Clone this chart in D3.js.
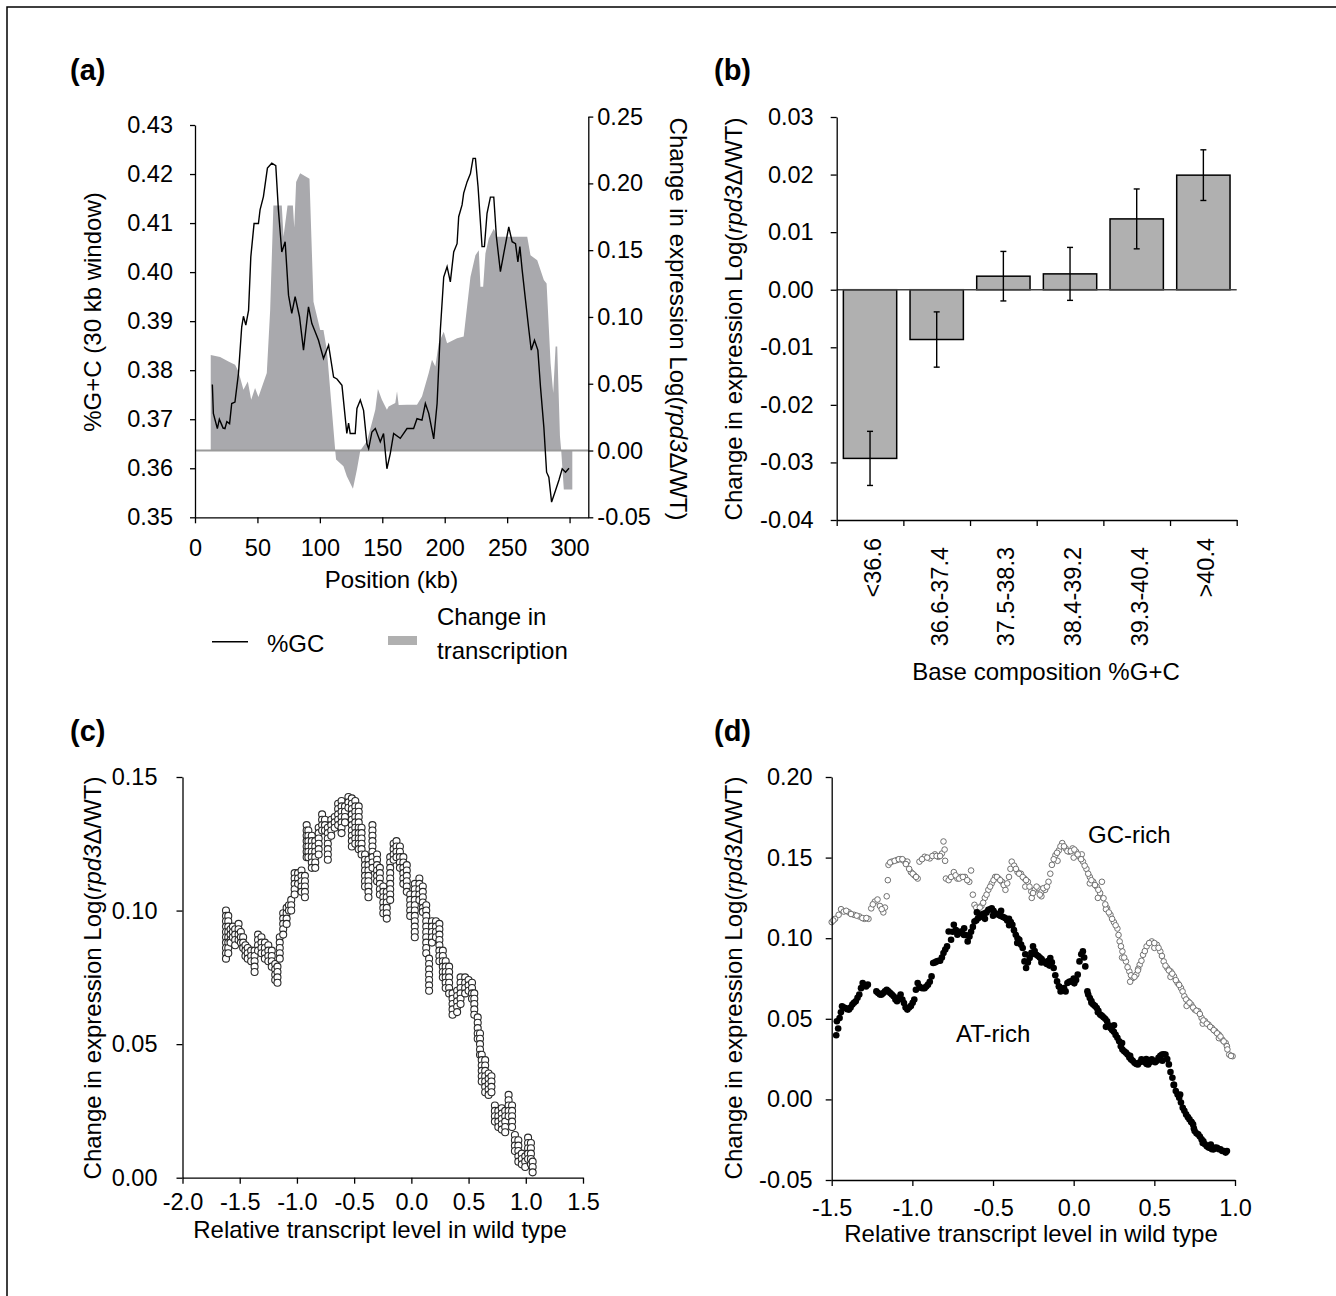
<!DOCTYPE html>
<html><head><meta charset="utf-8">
<script src="https://cdn.jsdelivr.net/npm/d3@7"></script>
<style>
body{margin:0;background:#fff}
svg text{font-family:"Liberation Sans",Arial,Helvetica,sans-serif;fill:#000}
</style>
</head><body>
<svg id="fig" width="1336" height="1296"></svg>
<script>
// ---------------- DATA ----------------
// Panel (a): %GC along chromosome (position kb, %G+C)
const gcPos = [13.9,14.7,17.9,19.5,21,22.5,24,25.5,27.7,29.4,32,34.8,37.4,38.8,40.7,42.9,44.7,47.3,50.8,52.1,54.8,58,61.5,64.7,66.8,69.5,72.2,74.9,77.5,80.2,83.7,86.9,90.9,93.6,96,98.9,102.9,107,111,113.7,117.7,121.6,123,124.3,128.3,129.7,132.4,135,137.7,139.1,141.7,144.4,148.4,151,153.7,156.4,159.1,164.4,169.8,175.1,177.8,181.8,184.5,187.2,191.2,193.9,196.5,199.2,201.9,204.5,207.2,209.9,211.2,213.9,215.2,217.9,220.6,222.7,224.6,226.7,229.9,231.8,233.9,236.6,239.3,241.4,244.6,247.3,251.3,254,256.7,258.6,260.2,262,264.7,267.4,269.3,271.9,274.6,276.7,279.4,281.6,283.4,285.6,288.8,291.5,294.1,296.8,299.5];
const gcVal = [.3771,.3712,.3681,.3700,.3691,.3682,.3681,.3695,.3691,.3732,.3735,.3793,.3888,.3910,.3892,.3922,.4031,.4099,.4099,.4127,.4154,.4212,.4222,.4217,.4127,.4041,.4062,.3953,.3916,.3950,.3909,.3841,.3929,.3895,.3880,.3861,.3824,.3851,.3786,.3782,.3769,.3671,.3692,.3671,.3671,.3722,.3739,.3718,.3650,.3640,.3674,.3681,.3654,.3671,.3599,.3630,.3671,.3661,.3681,.3681,.3701,.3698,.3732,.3712,.3660,.3732,.3882,.3990,.4011,.3980,.4041,.4058,.4113,.4137,.4161,.4184,.4201,.4232,.4232,.4174,.4052,.4052,.4120,.4153,.4153,.4072,.4001,.4038,.4092,.4062,.4058,.4021,.4052,.4005,.3943,.3882,.3841,.3861,.3841,.3766,.3684,.3592,.3582,.3531,.3555,.3576,.3599,.3592,.3600];
// Panel (a): change in transcription (position kb, log ratio)
const txPos = [12.6,12.6,20.1,26.8,32.1,34.8,38.8,42.3,45,48.1,50.8,57.5,60.2,62.8,69.5,70.9,74.1,78.4,79.5,81,84.2,91.7,94.9,100.3,102.9,105.6,109.6,112.3,113,118.9,121.6,126.5,129.7,132.4,137.7,141.7,144.4,146.5,149.7,153.7,155.1,160.4,161.8,163.1,169.8,177.8,181.8,187.2,189.8,192.5,195.2,199.2,201.9,209.9,215.2,220.6,224.6,227.3,228.6,230.8,232.6,235.3,239.3,242,255.4,266.1,268.7,274.1,279.4,281.6,284.8,286.9,288.8,290.1,292.3,293.3,295.4,302.2,302.2];
const txVal = [0,.0716,.070,.0666,.0642,.0592,.0455,.0517,.038,.0468,.040,.058,.105,.1835,.1835,.160,.1835,.1835,.167,.201,.2076,.2034,.1114,.0903,.0903,.0753,.0306,0,-.0067,-.0117,-.0192,-.0286,-.0142,0,.007,.0207,.0306,.046,.038,.0306,.033,.0356,.0443,.034,.0343,.0343,.0405,.058,.0679,.0629,.0803,.089,.0803,.0841,.0853,.130,.1462,.150,.1226,.1226,.1475,.1587,.1661,.160,.160,.160,.1462,.1425,.1276,.125,.0654,.043,.0778,.0778,.0107,0,-.0291,-.0291,0];
const aXTicks = [0,50,100,150,200,250,300];
const aYLeftTicks = [0.35,0.36,0.37,0.38,0.39,0.40,0.41,0.42,0.43];
const aYRightTicks = [-0.05,0,0.05,0.10,0.15,0.20,0.25];

// Panel (b)
const bCategories = ["<36.6","36.6-37.4","37.5-38.3","38.4-39.2","39.3-40.4",">40.4"];
const bValues = [-0.0293,-0.00865,0.00235,0.00275,0.0123,0.0199];
const bErrors = [0.0047,0.0048,0.0043,0.0046,0.0052,0.0044];
const bYTicks = [-0.04,-0.03,-0.02,-0.01,0,0.01,0.02,0.03];

// Panel (c): columns of moving-average points (x, list of y)
const cColX = [-1.62,-1.60,-1.58,-1.56,-1.54,-1.51,-1.49,-1.47,-1.45,-1.43,-1.40,-1.37,-1.34,-1.31,-1.28,-1.25,-1.22,-1.19,-1.17,-1.15,-1.12,-1.09,-1.07,-1.05,-1.02,-0.99,-0.96,-0.93,-0.915,-0.90,-0.87,-0.84,-0.81,-0.78,-0.755,-0.73,-0.70,-0.67,-0.64,-0.61,-0.58,-0.55,-0.52,-0.49,-0.46,-0.435,-0.405,-0.375,-0.34,-0.30,-0.275,-0.245,-0.215,-0.185,-0.155,-0.13,-0.10,-0.07,-0.04,-0.01,0.03,0.07,0.10,0.13,0.155,0.18,0.215,0.245,0.275,0.30,0.33,0.36,0.40,0.43,0.47,0.50,0.53,0.55,0.58,0.60,0.615,0.645,0.675,0.70,0.73,0.76,0.79,0.82,0.85,0.88,0.905,0.935,0.965,0.995,1.02,1.045,1.06];
const cColY = [
 [.100,.098,.096,.094,.092,.090,.088,.086,.084,.082],[.098,.096,.094,.092,.090,.088,.086,.084],[.093,.091,.089,.088],[.094,.092,.090],[.093,.091,.089,.087],
 [.095,.093,.091,.089],[.092,.090,.088],[.090,.088,.086],[.087,.085,.083],[.086,.084,.082],
 [.085,.083,.081],[.085,.083,.081,.079,.077],[.091,.089,.087,.085],[.090,.088,.086,.084],[.088,.086,.084,.082],
 [.087,.085,.083,.081],[.085,.083,.081,.079],[.080,.078,.076,.074],[.079,.077,.075,.073],[.090,.088,.086,.084,.082],
 [.099,.097,.095,.093,.091],[.101,.099,.097,.095],[.102,.100],[.104,.102,.100],[.114,.112,.110,.108,.106],
 [.114,.112,.110],[.115,.113,.111,.109,.107],[.113,.111,.109,.107,.105],[.132,.130,.128,.126,.124,.122,.120],[.130,.128,.126,.124,.122,.120],
 [.128,.126,.124,.122,.120,.118,.116],[.126,.124,.122,.120,.118,.116],[.131,.129,.127,.125,.123,.121],[.136,.134,.132,.130],[.134,.132,.130],
 [.131,.129,.127,.125,.123,.121,.119],[.134,.132,.130,.128],[.135,.133,.131],[.140,.138,.136,.134,.132],[.141,.139,.137,.135,.133,.131,.129],
 [.139,.137,.135,.133],[.1425,.1405,.1385],[.142,.140,.138,.136,.134,.132,.130,.128,.126,.124],[.141,.139,.137,.135,.133,.131,.129,.127,.125],[.139,.137,.135,.133,.131,.129,.127,.125,.123],
 [.131,.129,.127,.125,.123,.121],[.121,.119,.117,.115,.113,.111,.109],[.119,.117,.115,.113,.111,.109,.107,.105],[.132,.130,.128,.126,.124,.122,.120,.118,.116],[.121,.119,.117,.115,.113,.111],
 [.116,.114,.112,.110,.108,.106],[.109,.107,.105,.103,.101,.099],[.107,.105,.103,.101,.099,.097],[.120,.118,.116,.114,.112,.110,.108,.106,.104],[.125,.123,.121,.119],
 [.126,.124,.122,.120],[.124,.122,.120,.118,.116],[.120,.118,.116,.114,.112,.110],[.117,.115,.113,.111,.109,.107],[.106,.104,.102,.100,.098],
 [.110,.108,.106,.104,.102,.100,.098,.096,.094,.092,.090],[.112,.110,.108,.106,.104],[.109,.107,.105,.103,.101,.0995],[.102,.100,.098,.096,.094,.092,.090,.088,.086,.084],[.082,.080,.078,.076,.074,.072,.070],
 [.096,.094,.092,.090,.088],[.096,.094,.092,.090],[.095,.093,.091,.089,.087,.085,.083,.081],[.085,.083,.081,.079,.077,.075],[.081,.079,.077,.075,.073,.071],
 [.079,.077,.075,.073,.071,.069],[.069,.067,.065,.063,.061],[.070,.068,.066,.064,.062],[.075,.073,.071,.069,.067,.065],[.075,.073,.071,.069],
 [.074,.072,.070],[.073,.071,.069,.067],[.069,.067,.065,.063,.061],[.060,.058,.056,.054,.052],[.054,.052,.050,.048,.046],
 [.046,.044,.042,.040,.038,.036],[.044,.042,.040,.038,.036,.034,.032],[.039,.037,.035,.033,.031],[.038,.036,.034,.032],[.027,.025,.023,.021],
 [.025,.023,.021,.019],[.026,.024,.022,.020,.018],[.025,.023,.021,.019,.017],[.031,.029,.027,.025,.023],[.027,.025,.023,.021,.019],
 [.016,.014,.012,.010],[.014,.012,.010,.008,.006],[.009,.007,.005],[.008,.006,.004],[.015,.013,.011,.009,.007],
 [.013,.011,.009,.007,.005],[.006,.004,.002]
];
const cXTicks = [-2.0,-1.5,-1.0,-0.5,0,0.5,1.0,1.5];
const cYTicks = [0,0.05,0.10,0.15];

// Panel (d)
const dGcPoints = [[-1.5,.110],[-1.479,.112],[-1.457,.1145],[-1.442,.118],[-1.425,.1165],[-1.393,.116],[-1.361,.1145],[-1.329,.1135],[-1.297,.112],[-1.272,.112],[-1.255,.1185],[-1.233,.1227],[-1.216,.124],[-1.201,.120],[-1.18,.116],[-1.17,.119],[-1.159,.126],[-1.152,.136],[-1.148,.1455],[-1.127,.1475],[-1.095,.1485],[-1.073,.149],[-1.052,.148],[-1.031,.1475],[-1.009,.141],[-0.988,.139],[-0.967,.137],[-0.956,.1475],[-0.924,.1505],[-0.892,.1495],[-0.86,.152],[-0.839,.1505],[-0.817,.1525],[-0.807,.160],[-0.80,.155],[-0.797,.148],[-0.792,.137],[-0.775,.136],[-0.743,.141],[-0.721,.137],[-0.70,.138],[-0.674,.138],[-0.647,.135],[-0.636,.142],[-0.625,.127],[-0.615,.1207],[-0.593,.1175],[-0.572,.120],[-0.551,.125],[-0.529,.130],[-0.508,.134],[-0.487,.138],[-0.465,.137],[-0.444,.135],[-0.423,.130],[-0.401,.138],[-0.384,.1475],[-0.369,.145],[-0.348,.141],[-0.327,.140],[-0.305,.137],[-0.284,.135],[-0.263,.129],[-0.241,.130],[-0.22,.131],[-0.199,.129],[-0.177,.130],[-0.156,.135],[-0.135,.1455],[-0.113,.1515],[-0.092,.1545],[-0.071,.159],[-0.05,.1557],[-0.028,.1537],[-0.007,.1557],[0.015,.1537],[0.036,.1505],[0.057,.1475],[0.079,.143],[0.1,.138],[0.121,.135],[0.143,.132],[0.164,.128],[0.175,.135],[0.185,.1248],[0.207,.1186],[0.228,.1145],[0.249,.110],[0.271,.106],[0.285,.098],[0.302,.0918],[0.324,.0856],[0.345,.0794],[0.366,.0753],[0.388,.0774],[0.409,.0835],[0.43,.0897],[0.452,.0949],[0.484,.098],[0.516,.0959],[0.537,.0918],[0.558,.0856],[0.58,.0815],[0.601,.0794],[0.622,.0763],[0.644,.0722],[0.665,.0691],[0.686,.064],[0.708,.0609],[0.729,.0588],[0.75,.0557],[0.772,.0547],[0.793,.0505],[0.814,.0485],[0.836,.0464],[0.857,.0443],[0.878,.0423],[0.9,.0402],[0.921,.0371],[0.942,.035],[0.964,.0278],[0.985,.0268],
 [-0.3,.132],[-0.26,.125],[-0.2,.126],[-0.1,.148],[0,.150],[0.05,.152],[0.1,.134],[0.15,.125],[0.2,.118],[0.3,.088],[0.35,.073],[0.4,.081],[0.5,.094],[0.6,.076],[0.7,.058],[0.8,.047],[0.9,.038],[0.95,.033],
 [-1.49,.111],[-1.41,.117],[-1.38,.115],[-1.345,.114],[-1.31,.1125],[-1.285,.1125],[-1.245,.121],[-1.19,.118],[-1.138,.147],[-1.11,.148],[-1.084,.149],[-1.062,.149],[-1.04,.146],[-1.02,.143],[-0.998,.140],[-0.977,.138],[-0.94,.149],[-0.908,.150],[-0.876,.151],[-0.85,.151],[-0.828,.151],[-0.76,.138],[-0.732,.139],[-0.71,.137],[-0.687,.138],[-0.66,.136],[-0.604,.119],[-0.582,.119],[-0.561,.122],[-0.54,.127],[-0.518,.132],[-0.497,.136],[-0.476,.138],[-0.455,.136],[-0.434,.133],[-0.412,.134],[-0.392,.143],[-0.358,.143],[-0.338,.140],[-0.316,.138],[-0.295,.136],[-0.274,.132],[-0.252,.128],[-0.23,.132],[-0.21,.127],[-0.188,.131],[-0.166,.132],[-0.145,.140],[-0.124,.149],[-0.103,.153],[-0.082,.157],[-0.06,.157],[-0.039,.154],[-0.018,.154],[0.004,.155],[0.025,.152],[0.046,.149],[0.068,.145],[0.09,.140],[0.11,.136],[0.132,.133],[0.153,.130],[0.196,.121],[0.218,.116],[0.238,.112],[0.26,.108],[0.278,.102],[0.293,.095],[0.313,.088],[0.334,.082],[0.355,.077],[0.377,.076],[0.398,.080],[0.42,.086],[0.441,.092],[0.468,.097],[0.5,.097],[0.526,.094],[0.547,.089],[0.569,.083],[0.59,.080],[0.611,.078],[0.633,.074],[0.654,.071],[0.675,.067],[0.697,.062],[0.718,.060],[0.74,.057],[0.761,.055],[0.782,.053],[0.804,.049],[0.825,.047],[0.846,.045],[0.868,.043],[0.889,.041],[0.91,.039],[0.93,.036],[0.953,.031],[0.975,.027]];
const dAtPoints = [[-1.472,.0398],[-1.468,.0485],[-1.451,.0505],[-1.436,.0578],[-1.415,.0567],[-1.393,.0557],[-1.372,.0588],[-1.351,.0609],[-1.329,.065],[-1.308,.0722],[-1.287,.0701],[-1.276,.0712],[-1.223,.067],[-1.201,.065],[-1.18,.066],[-1.159,.068],[-1.137,.066],[-1.116,.064],[-1.095,.0609],[-1.073,.065],[-1.052,.0598],[-1.031,.0557],[-1.009,.058],[-0.988,.0619],[-0.967,.0722],[-0.945,.0691],[-0.924,.069],[-0.903,.0712],[-0.881,.0763],[-0.871,.0846],[-0.849,.0856],[-0.828,.086],[-0.807,.0908],[-0.785,.0949],[-0.775,.1042],[-0.76,.099],[-0.743,.1083],[-0.721,.1021],[-0.70,.1042],[-0.679,.1062],[-0.657,.098],[-0.636,.104],[-0.615,.1104],[-0.593,.1124],[-0.572,.1145],[-0.551,.1155],[-0.529,.1176],[-0.508,.1186],[-0.487,.1155],[-0.465,.1145],[-0.444,.1134],[-0.423,.1124],[-0.401,.112],[-0.38,.1083],[-0.359,.1021],[-0.337,.099],[-0.316,.0939],[-0.305,.0856],[-0.295,.0815],[-0.273,.0877],[-0.252,.0949],[-0.231,.0897],[-0.21,.088],[-0.188,.0856],[-0.167,.084],[-0.145,.0877],[-0.124,.0815],[-0.103,.0732],[-0.081,.067],[-0.06,.0691],[-0.039,.0722],[-0.017,.0732],[0.004,.072],[0.025,.0774],[0.036,.0856],[0.047,.090],[0.057,.0918],[0.065,.088],[0.072,.0825],[0.085,.067],[0.1,.0629],[0.121,.0588],[0.143,.0567],[0.164,.0526],[0.185,.051],[0.207,.0485],[0.228,.0443],[0.249,.042],[0.271,.0382],[0.292,.033],[0.313,.0299],[0.334,.0278],[0.356,.0248],[0.377,.0227],[0.398,.0217],[0.42,.0248],[0.441,.023],[0.462,.0217],[0.484,.0248],[0.505,.023],[0.526,.0258],[0.548,.0278],[0.569,.0278],[0.59,.0217],[0.612,.0134],[0.633,.0052],[0.654,.001],[0.676,-.0052],[0.697,-.0093],[0.718,-.0124],[0.74,-.0155],[0.75,-.0196],[0.772,-.0217],[0.793,-.0248],[0.814,-.0278],[0.836,-.0299],[0.857,-.0309],[0.878,-.0299],[0.9,-.0309],[0.921,-.032],[0.942,-.033],
 [-0.75,.104],[-0.68,.102],[-0.6,.116],[-0.55,.112],[-0.5,.114],[-0.45,.117],[-0.40,.108],[-0.35,.097],[-0.30,.090],[-0.26,.090],[-0.20,.085],[-0.15,.083],[-0.09,.070],[-0.05,.067],[0.0,.075],[0.11,.060],[0.15,.054],[0.2,.045],[0.25,.046],[0.3,.035],[0.35,.027],[0.45,.025],[0.55,.024],[0.62,.009],[0.66,.003],[0.73,-.014],[0.8,-.027],[0.85,-.028],[0.95,-.032],
 [-1.46,.044],[-1.443,.054],[-1.425,.057],[-1.404,.056],[-1.383,.057],[-1.362,.060],[-1.34,.063],[-1.318,.069],[-1.297,.071],[-1.212,.066],[-1.19,.065],[-1.17,.067],[-1.148,.067],[-1.127,.065],[-1.105,.062],[-1.084,.063],[-1.062,.062],[-1.042,.057],[-1.02,.057],[-0.998,.060],[-0.978,.068],[-0.956,.070],[-0.935,.069],[-0.914,.070],[-0.892,.073],[-0.86,.085],[-0.838,.086],[-0.817,.088],[-0.796,.093],[-0.73,.105],[-0.69,.103],[-0.668,.102],[-0.646,.101],[-0.625,.107],[-0.604,.111],[-0.583,.113],[-0.562,.115],[-0.54,.116],[-0.518,.118],[-0.497,.117],[-0.476,.115],[-0.455,.114],[-0.433,.113],[-0.412,.111],[-0.39,.110],[-0.37,.105],[-0.348,.100],[-0.326,.096],[-0.284,.085],[-0.262,.091],[-0.242,.092],[-0.22,.089],[-0.199,.087],[-0.178,.085],[-0.156,.086],[-0.135,.085],[-0.114,.077],[-0.092,.070],[-0.07,.068],[-0.028,.073],[-0.006,.073],[0.015,.074],[0.09,.065],[0.11,.061],[0.132,.058],[0.153,.055],[0.174,.052],[0.196,.050],[0.218,.046],[0.238,.043],[0.26,.040],[0.282,.036],[0.302,.031],[0.324,.029],[0.345,.026],[0.366,.024],[0.388,.022],[0.41,.023],[0.43,.024],[0.452,.022],[0.473,.023],[0.494,.024],[0.516,.024],[0.537,.027],[0.558,.028],[0.58,.025],[0.6,.017],[0.622,.009],[0.644,.003],[0.665,-.002],[0.686,-.007],[0.708,-.011],[0.729,-.014],[0.745,-.018],[0.761,-.021],[0.782,-.023],[0.804,-.026],[0.825,-.029],[0.846,-.030],[0.868,-.031],[0.889,-.030],[0.91,-.031],[0.932,-.032]];
const dXTicks = [-1.5,-1.0,-0.5,0,0.5,1.0];
const dYTicks = [-0.05,0,0.05,0.10,0.15,0.20];

// ---------------- DRAWING ----------------
const FS = 23.5;
const svg = d3.select("#fig");
svg.append("rect").attr("width",1336).attr("height",1296).attr("fill","#fff");
svg.append("path").attr("d","M7,1296V7H1336").attr("fill","none").attr("stroke","#000").attr("stroke-width",1.5);

function styleAxis(g){
  g.attr("font-size",null).attr("font-family",null);
  g.select(".domain").attr("stroke","#000").attr("stroke-width",1.3);
  g.selectAll(".tick line").attr("stroke","#000").attr("stroke-width",1.3);
  g.selectAll(".tick text").attr("font-size",FS).attr("fill","#000");
}
function yTitle(x,y,rot){
  const t = svg.append("text").attr("transform",`translate(${x},${y}) rotate(${rot})`)
    .attr("text-anchor","middle").attr("font-size",24);
  t.append("tspan").text("Change in expression Log(");
  t.append("tspan").attr("font-style","italic").text("rpd3");
  t.append("tspan").text("\u0394/WT)");
}
function label(x,y,txt,opts={}){
  return svg.append("text").attr("x",x).attr("y",y).attr("font-size",opts.fs||24)
    .attr("text-anchor",opts.anchor||"start").attr("font-weight",opts.bold?"bold":null).text(txt);
}
const f1 = d=>d.toFixed(1), f2 = d=>d.toFixed(2);

// ----- Panel (a) -----
const ax = d3.scaleLinear().domain([0,315]).range([195,588.3]);
const ayL = d3.scaleLinear().domain([0.35,0.43]).range([517.3,125]);
const ayR = d3.scaleLinear().domain([-0.05,0.25]).range([517.3,116.6]);
const txData = txPos.map((p,i)=>[p,txVal[i]]);
svg.append("path").datum(txData).attr("fill","#a9a9ad").attr("stroke","none")
  .attr("d",d3.area().x(d=>ax(d[0])).y0(ayR(0)).y1(d=>ayR(d[1])));
svg.append("line").attr("x1",ax(0)).attr("x2",ax(315)).attr("y1",ayR(0)).attr("y2",ayR(0))
  .attr("stroke","#9a9a9a").attr("stroke-width",2);
const gcData = gcPos.map((p,i)=>[p,gcVal[i]]);
svg.append("path").datum(gcData).attr("fill","none").attr("stroke","#000").attr("stroke-width",1.4)
  .attr("d",d3.line().x(d=>ax(d[0])).y(d=>ayL(d[1])));
svg.append("g").attr("transform",`translate(0,${ayL(0.35)})`)
  .call(d3.axisBottom(ax).tickValues(aXTicks).tickSize(6).tickSizeOuter(0).tickPadding(16).tickFormat(d=>d)).call(styleAxis);
svg.append("g").attr("transform",`translate(${ax(0)},0)`)
  .call(d3.axisLeft(ayL).tickValues(aYLeftTicks).tickSize(5).tickSizeOuter(0).tickPadding(17).tickFormat(f2)).call(styleAxis);
svg.append("g").attr("transform",`translate(${ax(315)},0)`)
  .call(d3.axisRight(ayR).tickValues(aYRightTicks).tickSize(5).tickSizeOuter(0).tickPadding(4).tickFormat(f2)).call(styleAxis);
label(391.5,588,"Position (kb)",{anchor:"middle"});
svg.append("text").attr("transform","translate(101,312) rotate(-90)").attr("text-anchor","middle")
  .attr("font-size",24).text("%G+C (30 kb window)");
yTitle(670,319,90);
// legend
svg.append("line").attr("x1",212).attr("x2",248).attr("y1",641.7).attr("y2",641.7).attr("stroke","#000").attr("stroke-width",1.5);
label(267,652,"%GC");
svg.append("rect").attr("x",388).attr("y",636).attr("width",29).attr("height",9).attr("fill","#b0b0b0");
label(437,625,"Change in");
label(437,659,"transcription");

// ----- Panel (b) -----
const bx = d3.scaleBand().domain(bCategories).range([836.7,1236.7]).paddingInner(0.2).paddingOuter(0.1);
const by = d3.scaleLinear().domain([-0.04,0.03]).range([520,117]);
const bBound = d3.scaleLinear().domain([0,bCategories.length]).range(bx.range());
svg.append("g").selectAll("rect").data(bCategories).join("rect")
  .attr("x",d=>bx(d)).attr("width",bx.bandwidth())
  .attr("y",(d,i)=>by(Math.max(0,bValues[i]))).attr("height",(d,i)=>Math.abs(by(bValues[i])-by(0)))
  .attr("fill","#b0b0b0").attr("stroke","#000").attr("stroke-width",1.5);
svg.append("line").attr("x1",bBound(0)).attr("x2",bBound(6)).attr("y1",by(0)).attr("y2",by(0))
  .attr("stroke","#444").attr("stroke-width",1.5);
const eb = svg.append("g").attr("stroke","#000").attr("stroke-width",1.4);
bCategories.forEach((c,i)=>{
  const cx = bx(c)+bx.bandwidth()/2, y1 = by(bValues[i]+bErrors[i]), y2 = by(bValues[i]-bErrors[i]);
  eb.append("line").attr("x1",cx).attr("x2",cx).attr("y1",y1).attr("y2",y2);
  eb.append("line").attr("x1",cx-3).attr("x2",cx+3).attr("y1",y1).attr("y2",y1);
  eb.append("line").attr("x1",cx-3).attr("x2",cx+3).attr("y1",y2).attr("y2",y2);
});
svg.append("g").attr("transform",`translate(0,${by(-0.04)})`)
  .call(d3.axisBottom(bBound).tickValues(d3.range(0,bCategories.length+1)).tickSize(6).tickSizeOuter(0).tickFormat("")).call(styleAxis);
svg.append("g").attr("transform",`translate(${bBound(0)},0)`)
  .call(d3.axisLeft(by).tickValues(bYTicks).tickSize(6).tickSizeOuter(0).tickPadding(17).tickFormat(f2)).call(styleAxis);
bCategories.forEach(c=>{
  const top = c.length > 6 ? 547 : 538;
  svg.append("text").attr("transform",`translate(${bx(c)+bx.bandwidth()/2+11},${top}) rotate(-90)`)
    .attr("text-anchor","end").attr("font-size",FS).text(c);
});
label(1046,680,"Base composition %G+C",{anchor:"middle"});
yTitle(742,319,-90);

// ----- Panel (c) -----
const cx = d3.scaleLinear().domain([-2,1.5]).range([182.5,583]);
const cy = d3.scaleLinear().domain([0,0.15]).range([1177.7,777]);
const cPts = [];
cColX.forEach((x,i)=>cColY[i].forEach(y=>cPts.push([x,y])));
svg.append("g").selectAll("circle").data(cPts).join("circle")
  .attr("cx",d=>cx(d[0])).attr("cy",d=>cy(d[1])).attr("r",3.5)
  .attr("fill","#fff").attr("stroke","#2a2a2a").attr("stroke-width",1.1);
svg.append("g").attr("transform",`translate(0,${cy(0)})`)
  .call(d3.axisBottom(cx).tickValues(cXTicks).tickSize(6).tickSizeOuter(0).tickPadding(10).tickFormat(f1)).call(styleAxis);
svg.append("g").attr("transform",`translate(${cx(-2)},0)`)
  .call(d3.axisLeft(cy).tickValues(cYTicks).tickSize(6).tickSizeOuter(0).tickPadding(19).tickFormat(f2)).call(styleAxis);
label(380,1238,"Relative transcript level in wild type",{anchor:"middle"});
yTitle(101,978,-90);

// ----- Panel (d) -----
const dx = d3.scaleLinear().domain([-1.5,1.0]).range([831.7,1235]);
const dy = d3.scaleLinear().domain([-0.05,0.20]).range([1180,777]);
svg.append("g").selectAll("circle").data(dGcPoints).join("circle")
  .attr("cx",d=>dx(d[0])).attr("cy",d=>dy(d[1])).attr("r",2.8)
  .attr("fill","#fff").attr("stroke","#707070").attr("stroke-width",1);
svg.append("g").selectAll("circle").data(dAtPoints).join("circle")
  .attr("cx",d=>dx(d[0])).attr("cy",d=>dy(d[1])).attr("r",3.3).attr("fill","#000");
svg.append("g").attr("transform",`translate(0,${dy(-0.05)})`)
  .call(d3.axisBottom(dx).tickValues(dXTicks).tickSize(6).tickSizeOuter(0).tickPadding(13).tickFormat(f1)).call(styleAxis);
svg.append("g").attr("transform",`translate(${dx(-1.5)},0)`)
  .call(d3.axisLeft(dy).tickValues(dYTicks).tickSize(6).tickSizeOuter(0).tickPadding(13).tickFormat(f2)).call(styleAxis);
label(1031,1242,"Relative transcript level in wild type",{anchor:"middle"});
yTitle(742,978,-90);
label(1088,843,"GC-rich");
label(956,1042,"AT-rich");

// panel letters
label(70,80,"(a)",{fs:29,bold:true});
label(714,80,"(b)",{fs:29,bold:true});
label(70,741,"(c)",{fs:29,bold:true});
label(714,741,"(d)",{fs:29,bold:true});
</script>
</body></html>
